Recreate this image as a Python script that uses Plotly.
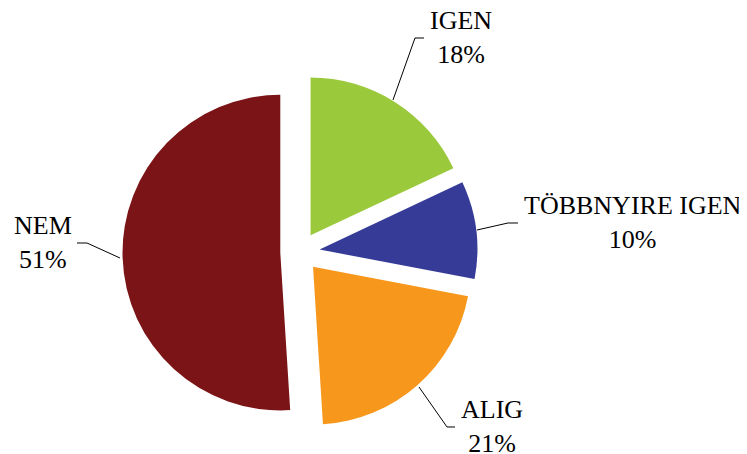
import plotly.graph_objects as go

# data
labels = ["IGEN", "TÖBBNYIRE IGEN", "ALIG", "NEM"]
values = [18, 10, 21, 51]
colors = ["#9BC93C", "#353B96", "#F7981D", "#7B1416"]

# the page body has an 8px margin, so the figure is drawn from (8, 8)
OFF = 8
W, H = 747 - OFF, 454 - OFF

# label positions (pixels of the reference picture) and leader lines
label_pos = {
    "IGEN": (461, 38),
    "TÖBBNYIRE IGEN": (633, 223),
    "ALIG": (492, 426),
    "NEM": (43, 243),
}
leaders = [
    [(393, 100), (415, 38), (424, 38)],
    [(477, 230), (508, 223), (518, 223)],
    [(419, 387), (447, 427), (455, 427)],
    [(120, 258), (87, 243), (77, 243)],
]


def px2paper(x, y):
    return (x - OFF) / W, 1 - (y - OFF) / H


# pie box: centre (300, 252), radius ~158, pull 0.125
cx, cy, side = 300, 252, 355
x0, y0 = px2paper(cx - side / 2, cy + side / 2)
x1, y1 = px2paper(cx + side / 2, cy - side / 2)

fig = go.Figure(go.Pie(
    labels=labels,
    values=values,
    sort=False,
    direction="clockwise",
    rotation=0,
    pull=[0.125] * 4,
    marker=dict(colors=colors, line=dict(width=0)),
    textinfo="none",
    showlegend=False,
    domain=dict(x=[x0, x1], y=[y0, y1]),
))

total = sum(values)
annotations = []
for lab, val in zip(labels, values):
    x, y = px2paper(*label_pos[lab])
    annotations.append(dict(
        x=x, y=y, xref="paper", yref="paper",
        text=f"{lab}<br>{round(val / total * 100)}%",
        showarrow=False, xanchor="center", yanchor="middle",
        font=dict(family="Liberation Serif", size=26, color="black"),
    ))

shapes = []
for pts in leaders:
    path = ""
    for i, (px_, py_) in enumerate(pts):
        x, y = px2paper(px_, py_)
        path += ("M" if i == 0 else "L") + f"{x:.5f},{y:.5f} "
    shapes.append(dict(type="path", xref="paper", yref="paper", path=path.strip(),
                       line=dict(color="black", width=1)))

fig.update_layout(
    width=W, height=H,
    margin=dict(l=0, r=0, t=0, b=0),
    paper_bgcolor="white",
    plot_bgcolor="white",
    annotations=annotations,
    shapes=shapes,
)

fig.write_html("out.html")
